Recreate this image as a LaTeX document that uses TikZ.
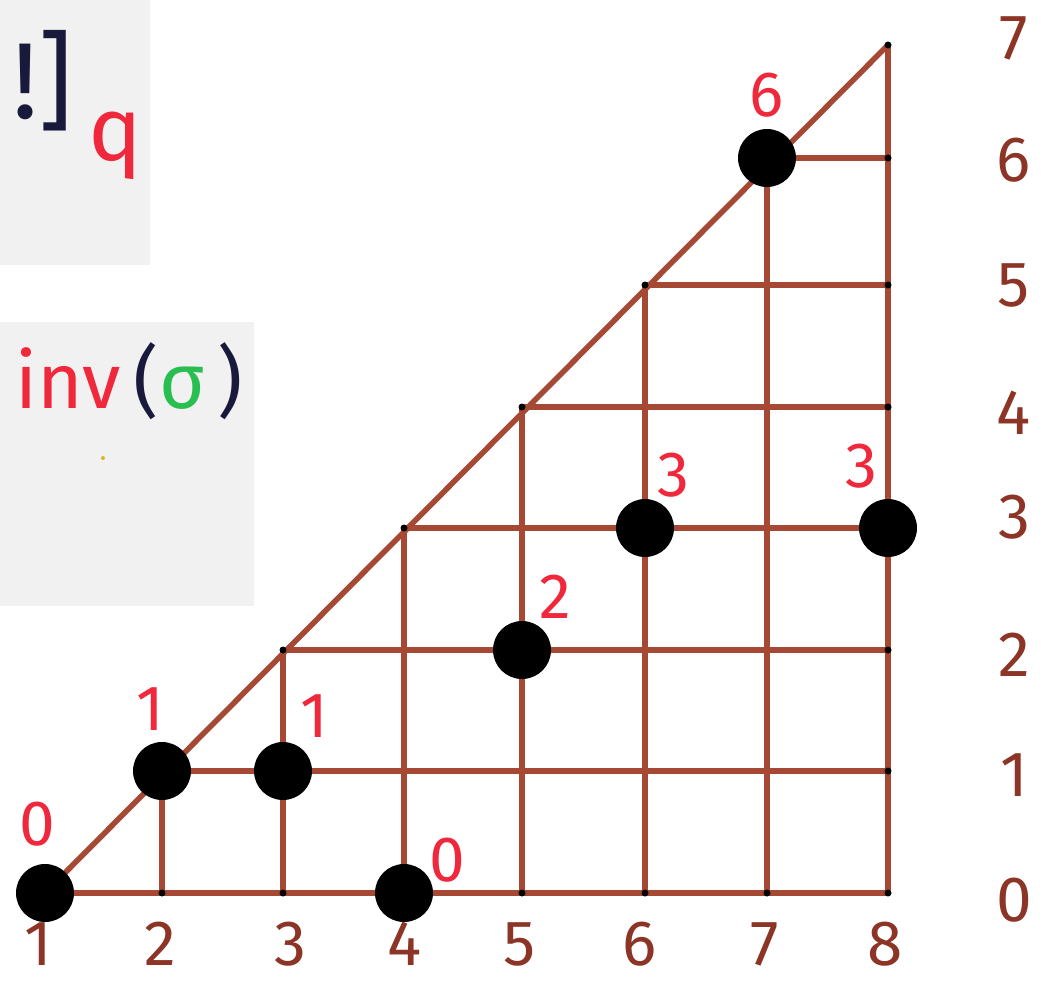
\documentclass[tikz,border=0pt]{standalone}
\usepackage{fontspec}
\setmainfont{Fira Sans}
\definecolor{gridc}{RGB}{165,72,52}
\definecolor{brownnum}{RGB}{140,52,38}
\definecolor{redlab}{RGB}{240,40,60}
\definecolor{navy}{RGB}{25,25,60}
\definecolor{greens}{RGB}{40,190,80}
\definecolor{panel}{RGB}{242,241,241}
\definecolor{speck}{RGB}{220,180,40}
\begin{document}
\begin{tikzpicture}[x=1pt,y=-1pt,
  gridline/.style={line width=5.5pt, draw=gridc, line cap=round},
  bigdot/.style={circle, fill=black, minimum size=58pt, inner sep=0pt},
  tickdot/.style={circle, fill=black, minimum size=7pt, inner sep=0pt},
  redlabel/.style={text=redlab, font=\fontsize{64}{64}\selectfont, inner sep=0pt},
  axnum/.style={text=brownnum, font=\fontsize{64}{64}\selectfont, inner sep=0pt},
  bigtext/.style={font=\fontsize{108}{108}\selectfont, inner sep=0pt}]
\useasboundingbox (0,0) rectangle (1063,983);
\fill[white] (0,0) rectangle (1063,983);
% panels
\fill[panel] (0,0) rectangle (150,265);
\fill[panel] (0,322) rectangle (254,606);
\node[bigtext, text=navy, anchor=base west] (fact) at (12,118) {!]};
\node[bigtext, text=redlab, anchor=base west, font=\fontsize{90}{90}\selectfont] (qsub) at (88,160) {q};
\node[anchor=base west, inner sep=0pt, font=\fontsize{78}{78}\selectfont] (inv) at (15,408)
  {\textcolor{redlab}{inv}\,\textcolor{navy}{(}\textcolor{greens}{σ}\,\textcolor{navy}{)}};
\fill[speck] (103,458) circle (2pt);
% grid coordinates
\foreach \x [count=\i] in {45,162,283,404,522,645,767,888}
  \coordinate (X\i) at (\x,0);
\foreach \y [count=\j from 0] in {893,771,650,528,407,285,158,45}
  \coordinate (Y\j) at (0,\y);
% grid lines
\draw[gridline] (X1|-Y0) -- (X8|-Y7);
\foreach \c [evaluate=\c as \r using int(\c-1)] in {2,...,8}
  \draw[gridline] (X\c|-Y0) -- (X\c|-Y\r);
\foreach \r [evaluate=\r as \c using int(\r+1)] in {0,...,6}
  \draw[gridline] (X\c|-Y\r) -- (X8|-Y\r);
% small pen dots at line ends
\foreach \c [evaluate=\c as \r using int(\c-1)] in {2,...,8} {
  \node[tickdot] (t-bot-\c) at (X\c|-Y0) {};
  \node[tickdot] (t-diag-\c) at (X\c|-Y\r) {};
}
\foreach \r in {1,...,6}
  \node[tickdot] (t-right-\r) at (X8|-Y\r) {};
% big points and their labels
\foreach \c/\r/\lx/\ly/\t in {1/0/37/824/0, 2/1/150/709/1, 3/1/314/716/1, 4/0/447/860/0,
    5/2/555/597/2, 6/3/673/475/3, 7/6/767/95/6, 8/3/861/466/3} {
  \node[bigdot] (pt-\c) at (X\c|-Y\r) {};
  \node[redlabel] (lab-\c) at (\lx,\ly) {\t};
}
% axis numbers
\foreach \x [count=\i] in {38,160,290,405,520,640,765,885}
  \node[axnum] (bot-\i) at (\x,944) {\i};
\foreach \y [count=\j from 0] in {900,775,655,517,413,285,160,38}
  \node[axnum] (right-\j) at (1014,\y) {\j};
\end{tikzpicture}
\end{document}
